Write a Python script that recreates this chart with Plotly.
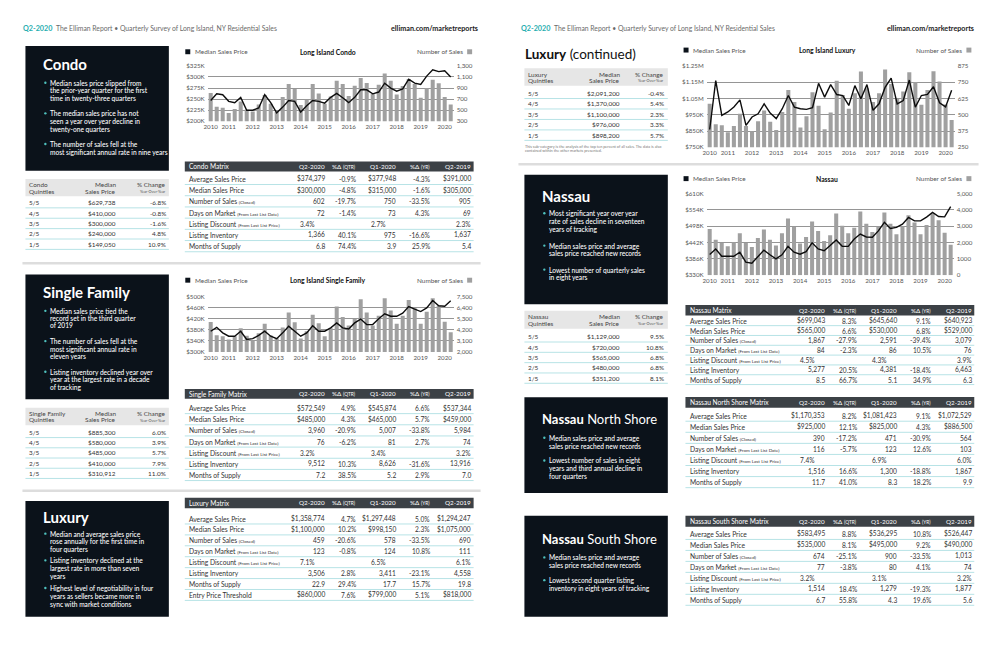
import plotly.graph_objects as go

# ---------------- DATA ----------------
quarters = ["2010-Q2", "2010-Q3", "2010-Q4",
            "2011-Q1", "2011-Q2", "2011-Q3", "2011-Q4",
            "2012-Q1", "2012-Q2", "2012-Q3", "2012-Q4",
            "2013-Q1", "2013-Q2", "2013-Q3", "2013-Q4",
            "2014-Q1", "2014-Q2", "2014-Q3", "2014-Q4",
            "2015-Q1", "2015-Q2", "2015-Q3", "2015-Q4",
            "2016-Q1", "2016-Q2", "2016-Q3", "2016-Q4",
            "2017-Q1", "2017-Q2", "2017-Q3", "2017-Q4",
            "2018-Q1", "2018-Q2", "2018-Q3", "2018-Q4",
            "2019-Q1", "2019-Q2", "2019-Q3", "2019-Q4",
            "2020-Q1", "2020-Q2"]
year_ticks = ["2010-Q2", "2011-Q1", "2012-Q1", "2013-Q1", "2014-Q1", "2015-Q1",
              "2016-Q1", "2017-Q1", "2018-Q1", "2019-Q1", "2020-Q1"]
year_labels = ["2010", "2011", "2012", "2013", "2014", "2015", "2016", "2017", "2018", "2019", "2020"]

condo_sales = [812, 562, 544, 449, 520, 657, 508, 478, 603, 776, 615, 473, 740, 973, 883, 592, 687,
               973, 800, 615, 746, 1032, 973, 758, 943, 1080, 990, 794, 961, 1163, 1032, 782, 937,
               1062, 973, 723, 895, 1050, 985, 740, 602]
condo_price = [247, 262, 260, 245, 242, 254, 225, 225, 230, 260, 242, 219, 232, 247, 245, 221, 235,
               247, 245, 241, 254, 263, 253, 242, 254, 271, 271, 262, 266, 286, 275, 268, 273,
               295, 286, 283, 302, 316, 312, 314, 300]

sf_sales = [4979, 3669, 3571, 3244, 3571, 4357, 3604, 3178, 3866, 4815, 3637, 3375, 4422, 5928, 4946,
            3342, 4062, 5699, 4848, 3571, 4357, 6517, 5470, 4619, 5273, 7237, 5928, 4619, 5601, 7335,
            6124, 4815, 5601, 7172, 6353, 4815, 5984, 7335, 6615, 5007, 3960]
sf_price = [375, 389, 369, 357, 357, 375, 345, 348, 360, 375, 357, 348, 369, 393, 375, 357, 369, 395,
            375, 375, 387, 405, 387, 383, 405, 419, 399, 399, 420, 438, 429, 429, 440, 464, 455, 446,
            459, 486, 467, 465, 485]

lux_sales = [584, 427, 420, 366, 414, 508, 414, 374, 450, 533, 447, 382, 521, 690, 597, 402, 488, 673,
             569, 389, 518, 761, 652, 546, 665, 832, 703, 597, 665, 847, 736, 622, 678, 827, 751, 576,
             690, 834, 756, 578, 459]
lux_price = [859, 1159, 946, 967, 997, 1041, 885, 936, 956, 1017, 960, 926, 987, 1068, 997, 987, 983,
             993, 1143, 1058, 1135, 1074, 1068, 1007, 1129, 1048, 1135, 977, 1017, 1118, 1175, 1017,
             1037, 1163, 997, 1068, 1075, 1122, 1023, 998, 1100]

nas_sales = [2823, 2177, 1976, 1774, 2016, 2560, 1976, 1734, 2278, 2802, 2177, 1815, 2560, 3468, 2964,
             1935, 2339, 3286, 2702, 2097, 2440, 3770, 3024, 2560, 2903, 3891, 3145, 2641, 2984, 3831,
             3145, 2500, 2984, 3669, 3226, 2500, 3079, 3770, 3367, 2591, 1867]
nas_price = [401, 420, 395, 395, 395, 409, 375, 371, 392, 416, 400, 386, 400, 429, 409, 402, 411, 441,
             420, 414, 432, 451, 429, 429, 454, 471, 461, 460, 482, 511, 490, 494, 505, 528, 516, 516,
             529, 545, 531, 530, 565]

# matrix tables
matrix_rows = ["Average Sales Price", "Median Sales Price", "Number of Sales (Closed)",
               "Days on Market (From Last List Date)", "Listing Discount (From Last List Price)",
               "Listing Inventory", "Months of Supply"]
matrix_rows_lux = matrix_rows + ["Entry Price Threshold"]
matrix_heads = ["Q2-2020", "%Δ (QTR)", "Q1-2020", "%Δ (YR)", "Q2-2019"]

condo_q220 = ["$374,379", "$300,000", "602", "72", "3.4%", "1,366", "6.8"]
condo_dqtr = ["-0.9%", "-4.8%", "-19.7%", "-1.4%", "", "40.1%", "74.4%"]
condo_q120 = ["$377,948", "$315,000", "750", "73", "2.7%", "975", "3.9"]
condo_dyr = ["-4.3%", "-1.6%", "-33.5%", "4.3%", "", "-16.6%", "25.9%"]
condo_q219 = ["$391,000", "$305,000", "905", "69", "2.3%", "1,637", "5.4"]

sf_q220 = ["$572,549", "$485,000", "3,960", "76", "3.2%", "9,512", "7.2"]
sf_dqtr = ["4.9%", "4.3%", "-20.9%", "-6.2%", "", "10.3%", "38.5%"]
sf_q120 = ["$545,874", "$465,000", "5,007", "81", "3.4%", "8,626", "5.2"]
sf_dyr = ["6.6%", "5.7%", "-33.8%", "2.7%", "", "-31.6%", "2.9%"]
sf_q219 = ["$537,344", "$459,000", "5,984", "74", "3.2%", "13,916", "7.0"]

lux_q220 = ["$1,358,774", "$1,100,000", "459", "123", "7.1%", "3,506", "22.9", "$860,000"]
lux_dqtr = ["4.7%", "10.2%", "-20.6%", "-0.8%", "", "2.8%", "29.4%", "7.6%"]
lux_q120 = ["$1,297,448", "$998,150", "578", "124", "6.5%", "3,411", "17.7", "$799,000"]
lux_dyr = ["5.0%", "2.3%", "-33.5%", "10.8%", "", "-23.1%", "15.7%", "5.1%"]
lux_q219 = ["$1,294,247", "$1,075,000", "690", "111", "6.1%", "4,558", "19.8", "$818,000"]

nas_q220 = ["$699,043", "$565,000", "1,867", "84", "4.5%", "5,277", "8.5"]
nas_dqtr = ["8.3%", "6.6%", "-27.9%", "-2.3%", "", "20.5%", "66.7%"]
nas_q120 = ["$645,640", "$530,000", "2,591", "86", "4.3%", "4,381", "5.1"]
nas_dyr = ["9.1%", "6.8%", "-39.4%", "10.5%", "", "-18.4%", "34.9%"]
nas_q219 = ["$640,923", "$529,000", "3,079", "76", "3.9%", "6,463", "6.3"]

nns_q220 = ["$1,170,353", "$925,000", "390", "116", "7.4%", "1,516", "11.7"]
nns_dqtr = ["8.2%", "12.1%", "-17.2%", "-5.7%", "", "16.6%", "41.0%"]
nns_q120 = ["$1,081,423", "$825,000", "471", "123", "6.9%", "1,300", "8.3"]
nns_dyr = ["9.1%", "4.3%", "-30.9%", "12.6%", "", "-18.8%", "18.2%"]
nns_q219 = ["$1,072,529", "$886,500", "564", "103", "6.0%", "1,867", "9.9"]

nss_q220 = ["$583,495", "$535,000", "674", "77", "3.2%", "1,514", "6.7"]
nss_dqtr = ["8.8%", "8.1%", "-25.1%", "-3.8%", "", "18.4%", "55.8%"]
nss_q120 = ["$536,295", "$495,000", "900", "80", "3.1%", "1,279", "4.3"]
nss_dyr = ["10.8%", "9.2%", "-33.5%", "4.1%", "", "-19.3%", "19.6%"]
nss_q219 = ["$526,447", "$490,000", "1,013", "74", "3.2%", "1,877", "5.6"]

# quintile tables
quintiles = ["5/5", "4/5", "3/5", "2/5", "1/5"]
condo_quint_price = ["$629,738", "$410,000", "$300,000", "$240,000", "$149,050"]
condo_quint_chg = ["-6.8%", "-0.8%", "-1.6%", "4.8%", "10.9%"]
sf_quint_price = ["$885,300", "$580,000", "$485,000", "$410,000", "$310,912"]
sf_quint_chg = ["6.0%", "3.9%", "5.7%", "7.9%", "11.0%"]
lux_quint_price = ["$2,091,200", "$1,370,000", "$1,100,000", "$976,000", "$898,200"]
lux_quint_chg = ["-0.4%", "5.4%", "2.3%", "3.3%", "5.7%"]
nas_quint_price = ["$1,129,000", "$720,000", "$565,000", "$480,000", "$351,200"]
nas_quint_chg = ["9.5%", "10.8%", "6.8%", "6.8%", "8.1%"]

# ---------------- STYLE ----------------
FONT = "Lato"
DARK = "#0b121a"
HEAD = "#3c4146"
BAND = "#e6e6e6"
CYAN = "#b7e3e6"
TEAL = "#4fc1be"
TXT = "#333333"
GRID = "#959595"
BAR = "#a0a0a0"

# the figure sits inside the page with an offset; compensate so the picture lines up
OX, OY = 11.5, 10.5
W, H = 986, 631


def X(px):
    return (px - OX) / W


def Y(py):
    return 1 - (py - OY) / H


annotations = []
shapes = []


def text(x, y, s, size=7.0, color=TXT, xanchor="left", yanchor="middle", weight=None):
    f = dict(size=size, color=color, family=FONT)
    if weight:
        f["weight"] = weight
    annotations.append(dict(x=X(x), y=Y(y), xref="paper", yref="paper", text=s, showarrow=False,
                            xanchor=xanchor, yanchor=yanchor, borderpad=0,
                            align="left" if xanchor == "left" else ("right" if xanchor == "right" else "center"),
                            font=f))


def rect(x0, y0, x1, y1, color):
    shapes.append(dict(type="rect", xref="paper", yref="paper", x0=X(x0), x1=X(x1), y0=Y(y1), y1=Y(y0),
                       fillcolor=color, line=dict(width=0), layer="below"))


def hline(x0, x1, y, color, width=1.0):
    shapes.append(dict(type="line", xref="paper", yref="paper", x0=X(x0), x1=X(x1), y0=Y(y), y1=Y(y),
                       line=dict(color=color, width=width), layer="below"))


def dot(x, y, r, color):
    shapes.append(dict(type="circle", xref="paper", yref="paper", x0=X(x - r), x1=X(x + r), y0=Y(y + r),
                       y1=Y(y - r), fillcolor=color, line=dict(width=0), layer="above"))


def small(label, fs=4.6):
    if "(" in label:
        a, b = label.split("(", 1)
        return a + '<span style="font-size:%spx">(' % fs + b + "</span>"
    return label


# ---------------- PAGE HEADERS ----------------
for x0, x1 in ((22, 480), (522, 978)):
    text(x0, 27, "<b>Q2-2020</b>", 7.2, "#27aeb0")
    text(x0 + 33, 27, "The Elliman Report • Quarterly Survey of Long Island, NY Residential Sales", 6.8, "#6a6a6a")
    text(x1, 27, "<b>elliman.com/marketreports</b>", 7.2, "#222222", "right")

# separators
hline(22, 482, 264.5, "#dddddd", 2.5)
hline(22, 482, 494.5, "#dddddd", 2.5)
hline(520, 982, 164.5, "#dddddd", 2.5)


# ---------------- DARK BOXES ----------------
def box(x0, y0, x1, y1, title, tsize, ty, bullets):
    rect(x0, y0, x1, y1, DARK)
    text(x0 + 16.5, ty, title, tsize, "white")
    for lines, ystart, step in bullets:
        dot(x0 + 20, ystart, 1.2, TEAL)
        for i, ln in enumerate(lines):
            text(x0 + 24, ystart + i * step, ln, 6.6, "white", weight=500)


box(25, 45, 169, 171, "<b>Condo</b>", 15, 63,
    [(["Median sales price slipped from", "the prior-year quarter for the first",
       "time in twenty-three quarters"], 82, 7.8),
     (["The median sales price has not", "seen a year over year decline in", "twenty-one quarters"], 113, 7.8),
     (["The number of sales fell at the", "most significant annual rate in nine years"], 144, 7.8)])
box(25, 276, 169, 402, "<b>Single Family</b>", 15, 294,
    [(["Median sales price tied the", "record set in the third quarter", "of 2019"], 312.7, 7.4),
     (["The number of sales fell at the", "most significant annual rate in", "eleven years"], 343.3, 7.7),
     (["Listing inventory declined year over", "year at the largest rate in a decade", "of tracking"], 374.3, 7.5)])
box(25, 505, 169, 622, "<b>Luxury</b>", 15, 521,
    [(["Median and average sales price", "rose annually for the first time in", "four quarters"], 538, 7.9),
     (["Listing inventory declined at the", "largest rate in more than seven", "years"], 565, 7.9),
     (["Highest level of negotiability in four", "years as sellers became more in",
       "sync with market conditions"], 593, 7.9)])
box(526, 175, 670, 306, "<b>Nassau</b>", 15, 196.7,
    [(["Most significant year over year", "rate of sales decline in seventeen", "years of tracking"], 214, 8.0),
     (["Median sales price and average", "sales price reached new records"], 246.7, 7.7),
     (["Lowest number of quarterly sales", "in eight years"], 271, 7.7)])
box(526, 400, 670, 497, "<b>Nassau</b> North Shore", 13, 422,
    [(["Median sales price and average", "sales price reached new records"], 441, 7.9),
     (["Lowest number of sales in eight", "years and third annual decline in", "four quarters"], 464, 7.9)])
box(526, 520, 670, 622, "<b>Nassau</b> South Shore", 13, 543,
    [(["Median sales price and average", "sales price reached new records"], 562, 7.9),
     (["Lowest second quarter listing", "inventory in eight years of tracking"], 585, 7.9)])

text(526, 52.5, "<b>Luxury</b> (continued)", 13.5, "#111111")
text(526, 146.7, "This sub-category is the analysis of the top ten percent of all sales. The data is also", 3.8, "#777777")
text(526, 150.7, "contained within the other markets presented.", 3.8, "#777777")


# ---------------- QUINTILE TABLES ----------------
def quint(x0, x1, btop, bbot, row0, step, name, prices, chgs, pcol, ccol):
    rect(x0, btop, x1, bbot, BAND)
    text(x0 + 3, btop + 6, name, 6.4, "#444444")
    text(x0 + 3, btop + 12.3, "Quintiles", 6.4, "#444444")
    text(pcol, btop + 6, "Median", 6.4, "#444444", "right")
    text(pcol, btop + 12.3, "Sales Price", 6.4, "#444444", "right")
    text(ccol, btop + 6, "% Change", 6.4, "#444444", "right")
    text(ccol, btop + 12.6, "Year-Over-Year", 3.8, "#555555", "right")
    for i, q in enumerate(quintiles):
        y = row0 + i * step
        text(x0 + 3, y, q, 6.4)
        text(pcol, y, prices[i], 6.4, TXT, "right")
        text(ccol, y, chgs[i], 6.4, TXT, "right")
        hline(x0, x1, y + step / 2, CYAN, 1)


quint(25, 169, 179.3, 196.7, 203.3, 10.5, "Condo", condo_quint_price, condo_quint_chg, 116.7, 166.7)
quint(25, 169, 410.7, 428.3, 435.7, 10.33, "Single Family", sf_quint_price, sf_quint_chg, 116.7, 166.7)
quint(526, 670, 67.3, 85, 92.7, 10.58, "Luxury", lux_quint_price, lux_quint_chg, 623.3, 667.3)
quint(526, 670, 312.7, 330.7, 339, 10.43, "Nassau", nas_quint_price, nas_quint_chg, 623.3, 667.3)


# ---------------- MATRIX TABLES ----------------
def matrix(x0, htop, hbot, row0, step, title, rows, cols):
    w = 290
    rect(x0, htop, x0 + w, hbot, HEAD)
    hy = (htop + hbot) / 2
    text(x0 + 3.5, hy, title, 6.6, "white")
    offs = [141.5, 173, 213.5, 247.5, 288.5]
    for h, o in zip(matrix_heads, offs):
        text(x0 + o, hy, small(h, 4.8), 6.3, "white", "right")
    for i, lab in enumerate(rows):
        y = row0 + i * step
        text(x0 + 3.5, y, small(lab), 6.7)
        for j, col in enumerate(cols):
            o = offs[j]
            if lab.startswith("Listing Discount") and j in (0, 2):
                o -= 10
            text(x0 + o, y, col[i], 6.6, TXT, "right")
        hline(x0, x0 + w, y + step / 2, CYAN, 1)


matrix(185, 161.7, 171.7, 179.3, 11.33, "Condo Matrix", matrix_rows,
       [condo_q220, condo_dqtr, condo_q120, condo_dyr, condo_q219])
matrix(185, 391.7, 401.7, 411, 11.28, "Single Family Matrix", matrix_rows,
       [sf_q220, sf_dqtr, sf_q120, sf_dyr, sf_q219])
matrix(185, 501.7, 512.3, 522.7, 11.04, "Luxury Matrix", matrix_rows_lux,
       [lux_q220, lux_dqtr, lux_q120, lux_dyr, lux_q219])
matrix(687.7, 306.7, 317.3, 322.7, 9.93, "Nassau Matrix", matrix_rows,
       [nas_q220, nas_dqtr, nas_q120, nas_dyr, nas_q219])
matrix(687.7, 399.7, 410.7, 418.7, 11.2, "Nassau North Shore Matrix", matrix_rows,
       [nns_q220, nns_dqtr, nns_q120, nns_dyr, nns_q219])
matrix(687.7, 520, 531, 538.3, 11.1, "Nassau South Shore Matrix", matrix_rows,
       [nss_q220, nss_dqtr, nss_q120, nss_dyr, nss_q219])

# ---------------- CHARTS ----------------
fig = go.Figure()
layout_axes = {}

charts = [
    dict(title="Long Island Condo", x0=208, x1=455, y0=65, y1=121, leg=50.7, lx=188, rx=471,
         sales=condo_sales, price=condo_price, srange=[300, 1300], sticks=[300, 500, 700, 900, 1100, 1300],
         slabels=["300", "500", "700", "900", "1,100", "1,300"],
         prange=[200, 325], pticks=[200, 225, 250, 275, 300, 325],
         plabels=["$200K", "$225K", "$250K", "$275K", "$300K", "$325K"]),
    dict(title="Long Island Single Family", x0=208, x1=455, y0=298.3, y1=354.3, leg=281.7, lx=188, rx=471,
         sales=sf_sales, price=sf_price, srange=[2000, 7500], sticks=[2000, 3100, 4200, 5300, 6400, 7500],
         slabels=["2,000", "3,100", "4,200", "5,300", "6,400", "7,500"],
         prange=[300, 500], pticks=[300, 340, 380, 420, 460, 500],
         plabels=["$300K", "$340K", "$380K", "$420K", "$460K", "$500K"]),
    dict(title="Long Island Luxury", x0=709, x1=958, y0=65, y1=147.3, leg=49, lx=688.3, rx=972.3,
         sales=lux_sales, price=lux_price, srange=[250, 875], sticks=[250, 375, 500, 625, 750, 875],
         slabels=["250", "375", "500", "625", "750", "875"],
         prange=[750, 1250], pticks=[750, 850, 950, 1050, 1150, 1250],
         plabels=["$750K", "$850K", "$950K", "$1.05M", "$1.15M", "$1.25M"]),
    dict(title="Nassau", x0=709, x1=957, y0=194, y1=276.7, leg=179, lx=688.3, rx=972.3,
         sales=nas_sales, price=nas_price, srange=[0, 5000], sticks=[0, 1000, 2000, 3000, 4000, 5000],
         slabels=["0", "1000", "2,000", "3,000", "4,000", "5,000"],
         prange=[330, 610], pticks=[330, 386, 442, 498, 554, 610],
         plabels=["$330K", "$386K", "$442K", "$498K", "$554K", "$610K"]),
]

tickfont = dict(size=6.2, color="#555555", family=FONT)
for k, c in enumerate(charts, start=1):
    xs = "x" if k == 1 else f"x{k}"
    ys_bar = "y" if k == 1 else f"y{2 * k - 1}"
    ys_line = f"y{2 * k}"
    fig.add_trace(go.Bar(x=quarters, y=c["sales"], xaxis=xs, yaxis=ys_bar, width=0.67,
                         marker=dict(color=BAR, line=dict(width=0)), showlegend=False, hoverinfo="skip"))
    fig.add_trace(go.Scatter(x=quarters, y=c["price"], xaxis=xs, yaxis=ys_line, mode="lines",
                             line=dict(color="#0d0d0d", width=1.4), showlegend=False, hoverinfo="skip"))
    xkey = "xaxis" if k == 1 else f"xaxis{k}"
    ybkey = "yaxis" if k == 1 else f"yaxis{2 * k - 1}"
    ylkey = f"yaxis{2 * k}"
    layout_axes[xkey] = dict(domain=[X(c["x0"]), X(c["x1"])], anchor=ys_bar, type="category",
                             categoryorder="array", categoryarray=quarters, range=[-0.5, len(quarters) - 0.5],
                             tickvals=year_ticks, ticktext=year_labels, tickfont=tickfont, showgrid=False,
                             zeroline=False, showline=False, ticks="", ticklabelstandoff=1)
    layout_axes[ybkey] = dict(domain=[Y(c["y1"]), Y(c["y0"])], anchor=xs, side="right", range=c["srange"],
                              tickvals=c["sticks"], ticktext=c["slabels"], tickfont=tickfont, showgrid=True,
                              gridcolor=GRID, gridwidth=0.7, zeroline=False, showline=False, ticks="",
                              ticklabelstandoff=2)
    layout_axes[ylkey] = dict(overlaying=ys_bar, anchor=xs, side="left", range=c["prange"],
                              tickvals=c["pticks"], ticktext=c["plabels"], tickfont=tickfont, showgrid=False,
                              zeroline=False, showline=False, ticks="", ticklabelstandoff=2)
    # legend row
    shapes.append(dict(type="rect", xref="paper", yref="paper", x0=X(c["lx"] - 2.5), x1=X(c["lx"] + 2.5),
                       y0=Y(c["leg"] + 2.5), y1=Y(c["leg"] - 2.5), fillcolor="#0b121a", line=dict(width=0)))
    text(c["lx"] + 6, c["leg"], "Median Sales Price", 6.4, "#555555")
    text((c["x0"] + c["x1"]) / 2 - 3, c["leg"], "<b>" + c["title"] + "</b>", 6.8, "#111111", "center")
    shapes.append(dict(type="rect", xref="paper", yref="paper", x0=X(c["rx"] - 2.5), x1=X(c["rx"] + 2.5),
                       y0=Y(c["leg"] + 2.5), y1=Y(c["leg"] - 2.5), fillcolor=BAR, line=dict(width=0)))
    text(c["rx"] - 6, c["leg"], "Number of Sales", 6.4, "#555555", "right")

fig.update_layout(width=W, height=H, margin=dict(l=0, r=0, t=0, b=0), paper_bgcolor="white",
                  plot_bgcolor="rgba(0,0,0,0)", font=dict(family=FONT, color=TXT), bargap=0.3,
                  annotations=annotations, shapes=shapes, showlegend=False, **layout_axes)
fig.write_html("out.html")
